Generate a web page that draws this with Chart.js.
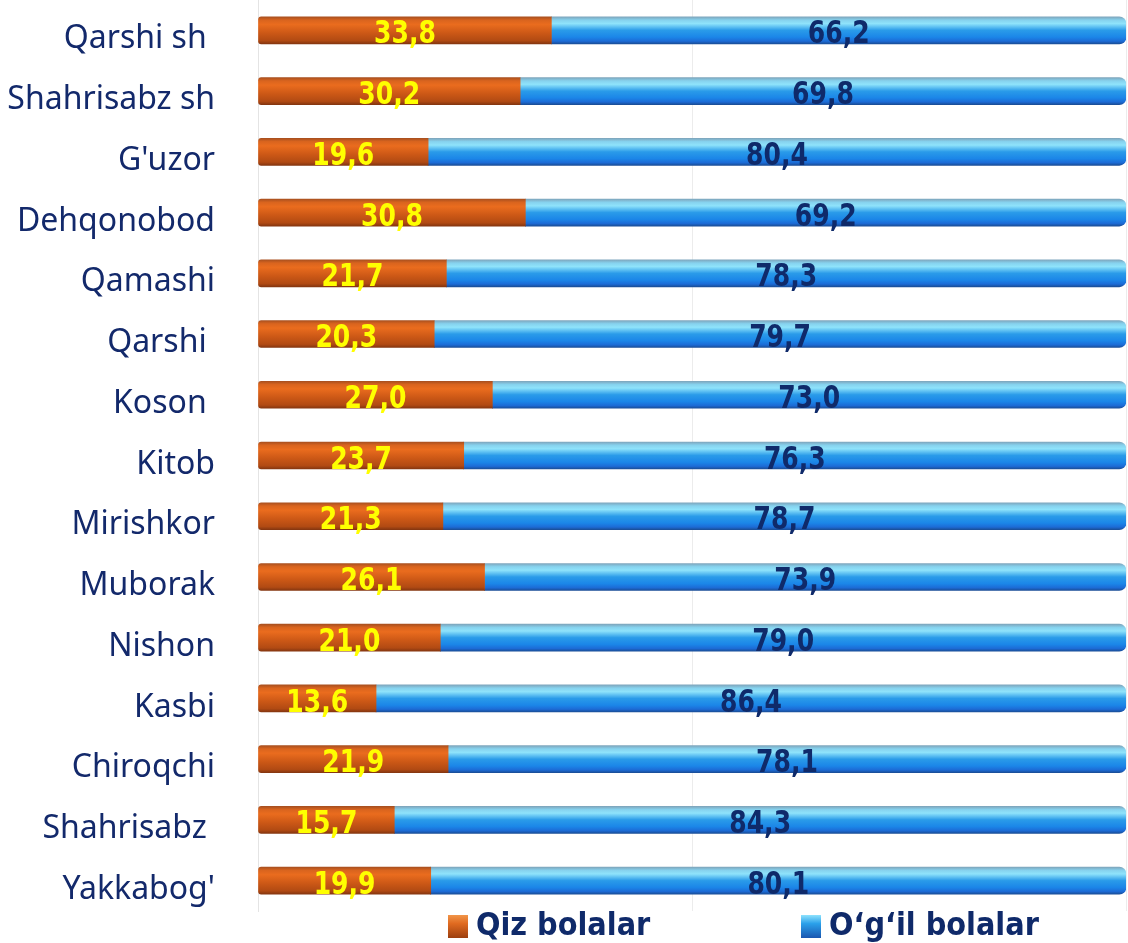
<!DOCTYPE html>
<html>
<head>
<meta charset="utf-8">
<script src="https://cdn.jsdelivr.net/npm/chart.js@4.4.1/dist/chart.umd.min.js"></script>
<style>
  body { margin: 0; background: #fff; }
</style>
</head>
<body>
<canvas id="myChart" width="1128" height="943"></canvas>
<script>
var districts = ["Qarshi sh ", "Shahrisabz sh", "G'uzor", "Dehqonobod", "Qamashi", "Qarshi ", "Koson ",
  "Kitob", "Mirishkor", "Muborak", "Nishon", "Kasbi", "Chiroqchi", "Shahrisabz ", "Yakkabog'"];
var qizBolalar = [33.8, 30.2, 19.6, 30.8, 21.7, 20.3, 27.0, 23.7, 21.3, 26.1, 21.0, 13.6, 21.9, 15.7, 19.9];
var ogilBolalar = [66.2, 69.8, 80.4, 69.2, 78.3, 79.7, 73.0, 76.3, 78.7, 73.9, 79.0, 86.4, 78.1, 84.3, 80.1];
var seriesNames = ["Qiz bolalar", "O\u2018g\u2018il bolalar"];

var BAR_H = 27;
var orangeStops = [[0, "#a9501f"], [0.12, "#d9641e"], [0.28, "#ea6c1e"], [0.6, "#cc5816"], [0.88, "#b14a13"], [1, "#853610"]];
var blueStops = [[0, "#7ea6bd"], [0.12, "#86d2ee"], [0.25, "#8fe3fb"], [0.5, "#2a9be9"], [0.75, "#1b86e8"], [0.9, "#1c6bd6"], [1, "#1a4e98"]];

function grad(c, y0, y1, stops) {
  var g = c.createLinearGradient(0, y0, 0, y1);
  stops.forEach(function (s) { g.addColorStop(s[0], s[1]); });
  return g;
}

// vertical gradient per bar, built from the bar's own y position
function barFill(stops, solid) {
  return function (context) {
    var chart = context.chart;
    if (context.type !== 'data' || !chart.scales.y) return solid;
    var yc = chart.scales.y.getPixelForValue(context.dataIndex);
    if (!isFinite(yc)) return solid;
    return grad(chart.ctx, yc - BAR_H / 2, yc + BAR_H / 2, stops);
  };
}

function fmt(v) { return v.toFixed(1).replace('.', ','); }

// value labels in the middle of each segment
var valueLabels = {
  id: 'valueLabels',
  afterDatasetsDraw: function (chart) {
    var c = chart.ctx;
    var colors = ["#ffff00", "#0f2a6a"];
    chart.data.datasets.forEach(function (ds, di) {
      var meta = chart.getDatasetMeta(di);
      meta.data.forEach(function (bar, i) {
        var p = bar.getProps(['x', 'y', 'base'], true);
        c.save();
        c.font = "bold 30px 'DejaVu Sans Condensed', 'DejaVu Sans'";
        c.textAlign = 'center';
        c.textBaseline = 'middle';
        c.fillStyle = colors[di];
        c.translate((p.x + p.base) / 2, p.y + 5);
        c.scale(0.93, 1.04);
        c.fillText(fmt(ds.data[i]), 0, 0);
        c.restore();
      });
    });
  }
};

// legend drawn under the plot
var bottomLegend = {
  id: 'bottomLegend',
  afterDraw: function (chart) {
    var c = chart.ctx;
    var xs = [448, 801];
    var y = 926;
    var stops = [
      [[0, "#f39a4e"], [0.4, "#e06a20"], [1, "#9c3f10"]],
      [[0, "#9aeaff"], [0.4, "#2aa0ea"], [1, "#1a56b0"]]
    ];
    c.save();
    c.font = "bold 32px 'DejaVu Sans Condensed', 'DejaVu Sans'";
    c.textAlign = 'left';
    c.textBaseline = 'middle';
    seriesNames.forEach(function (name, i) {
      c.fillStyle = grad(c, y - 12, y + 12, stops[i]);
      c.fillRect(xs[i], y - 11, 20, 23);
      c.fillStyle = "#0f2a6a";
      c.fillText(name, xs[i] + 28, y + 1);
    });
    c.restore();
  }
};

var ctx = document.getElementById("myChart").getContext("2d");
var myChart = new Chart(ctx, {
  type: 'bar',
  data: {
    labels: districts,
    datasets: [{
      label: seriesNames[0],
      data: qizBolalar,
      backgroundColor: barFill(orangeStops, "#d9641e"),
      borderWidth: 0,
      borderSkipped: false,
      borderRadius: { topLeft: 3, bottomLeft: 3, topRight: 0, bottomRight: 0 },
      barThickness: BAR_H
    }, {
      label: seriesNames[1],
      data: ogilBolalar,
      backgroundColor: barFill(blueStops, "#1b86e8"),
      borderWidth: 0,
      borderSkipped: false,
      borderRadius: { topLeft: 0, bottomLeft: 0, topRight: 7, bottomRight: 7 },
      barThickness: BAR_H
    }]
  },
  options: {
    indexAxis: 'y',
    responsive: false,
    animation: false,
    layout: { padding: { top: -2, right: 2, bottom: 32, left: 0 } },
    plugins: {
      legend: { display: false },
      tooltip: { enabled: false }
    },
    scales: {
      x: {
        stacked: true,
        min: 0,
        max: 100,
        ticks: { display: false, stepSize: 50 },
        border: { display: false },
        grid: { color: "#ececec", drawTicks: false }
      },
      y: {
        stacked: true,
        afterFit: function (scale) {
          scale.width = 258;
          scale.paddingTop = 0;
          scale.paddingBottom = 0;
        },
        border: { display: true, color: "#e4e4e4" },
        grid: { display: false, drawTicks: false },
        ticks: {
          padding: 43,
          labelOffset: 9,
          color: "#13296b",
          font: { family: "'Noto Sans'", size: 32 }
        }
      }
    }
  },
  plugins: [valueLabels, bottomLegend]
});
</script>
</body>
</html>
